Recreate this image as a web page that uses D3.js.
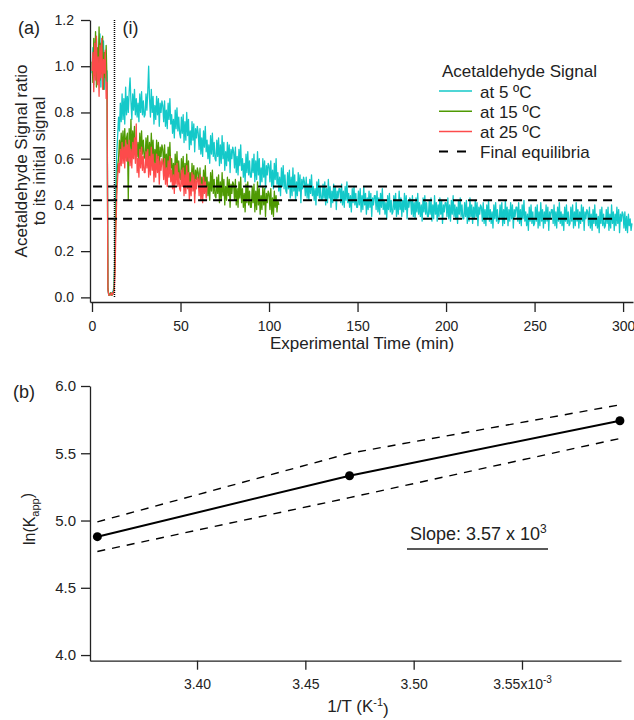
<!DOCTYPE html>
<html>
<head>
<meta charset="utf-8">
<script src="https://cdn.jsdelivr.net/npm/d3@7"></script>
<style>
  body { margin: 0; background: #fff; }
  svg { font-family: "Liberation Sans", Arial, sans-serif; }
</style>
</head>
<body>
<div id="chart"></div>
<script>
// ---- panel (a): acetaldehyde traces, one value every half minute from t = 0 ----
const sampleStep = 0.5;

const signal5C = [
  0.97,1.08,0.92,1.10,0.95,1.12,0.93,1.05,0.98,1.14,0.91,1.07,0.96,1.11,0.90,1.06,0.94,0.98,0.03,0.01,
  0.01,0.02,0.01,0.02,0.03,0.05,0.25,0.50,0.62,0.70,0.78,0.72,0.84,0.76,0.88,0.77,0.86,0.75,0.91,0.79,
  0.87,0.80,0.89,0.95,0.85,0.77,0.88,0.81,0.90,0.79,0.86,0.78,0.84,0.76,0.88,0.80,0.89,0.79,0.85,0.78,
  0.79,0.88,0.81,0.89,1.00,0.86,0.78,0.90,0.80,0.87,0.75,0.83,0.77,0.87,0.79,0.86,0.74,0.84,0.80,0.85,
  0.83,0.76,0.85,0.74,0.81,0.73,0.84,0.77,0.86,0.75,0.79,0.71,0.77,0.69,0.81,0.73,0.82,0.72,0.78,0.71,
  0.69,0.78,0.71,0.79,0.67,0.76,0.68,0.80,0.70,0.77,0.64,0.72,0.66,0.76,0.68,0.75,0.63,0.73,0.69,0.74,
  0.71,0.64,0.73,0.62,0.69,0.61,0.72,0.65,0.74,0.63,0.68,0.60,0.66,0.58,0.70,0.62,0.71,0.61,0.67,0.60,
  0.59,0.68,0.61,0.69,0.57,0.66,0.58,0.70,0.60,0.67,0.55,0.63,0.57,0.67,0.59,0.66,0.54,0.64,0.60,0.65,
  0.63,0.56,0.65,0.54,0.61,0.53,0.64,0.57,0.66,0.55,0.60,0.52,0.58,0.50,0.62,0.54,0.63,0.53,0.59,0.52,
  0.52,0.60,0.54,0.62,0.50,0.59,0.51,0.63,0.53,0.60,0.48,0.56,0.50,0.60,0.52,0.59,0.47,0.57,0.53,0.58,
  0.57,0.50,0.59,0.48,0.55,0.47,0.58,0.51,0.60,0.49,0.54,0.46,0.52,0.44,0.56,0.48,0.57,0.47,0.53,0.46,
  0.45,0.54,0.47,0.55,0.43,0.52,0.44,0.56,0.46,0.53,0.42,0.50,0.44,0.54,0.46,0.53,0.41,0.51,0.47,0.52,
  0.50,0.44,0.52,0.43,0.49,0.42,0.51,0.45,0.53,0.44,0.48,0.42,0.47,0.40,0.50,0.44,0.51,0.43,0.48,0.42,
  0.42,0.49,0.43,0.50,0.40,0.47,0.41,0.51,0.43,0.48,0.39,0.46,0.41,0.49,0.42,0.48,0.38,0.46,0.43,0.47,
  0.47,0.41,0.49,0.40,0.46,0.39,0.48,0.42,0.50,0.41,0.45,0.39,0.44,0.37,0.47,0.41,0.48,0.40,0.45,0.39,
  0.39,0.46,0.40,0.47,0.37,0.44,0.38,0.48,0.40,0.45,0.36,0.43,0.38,0.46,0.39,0.45,0.35,0.43,0.40,0.44,
  0.44,0.38,0.46,0.37,0.43,0.36,0.45,0.39,0.47,0.38,0.42,0.36,0.41,0.34,0.44,0.38,0.45,0.37,0.42,0.36,
  0.37,0.44,0.38,0.45,0.35,0.42,0.36,0.46,0.38,0.43,0.35,0.42,0.37,0.45,0.38,0.44,0.34,0.42,0.39,0.43,
  0.42,0.36,0.44,0.35,0.41,0.34,0.43,0.37,0.45,0.36,0.41,0.35,0.40,0.33,0.43,0.37,0.44,0.36,0.41,0.35,
  0.35,0.42,0.36,0.43,0.33,0.40,0.34,0.44,0.36,0.41,0.33,0.40,0.35,0.43,0.36,0.42,0.32,0.40,0.37,0.41,
  0.41,0.35,0.43,0.34,0.40,0.33,0.42,0.36,0.44,0.35,0.40,0.34,0.39,0.32,0.42,0.36,0.43,0.35,0.40,0.34,
  0.34,0.41,0.35,0.42,0.32,0.39,0.33,0.43,0.35,0.40,0.32,0.39,0.34,0.42,0.35,0.41,0.31,0.39,0.36,0.40,
  0.39,0.33,0.41,0.32,0.38,0.31,0.40,0.34,0.42,0.33,0.38,0.32,0.37,0.30,0.40,0.34,0.41,0.33,0.38,0.32,
  0.33,0.40,0.34,0.41,0.31,0.38,0.32,0.42,0.34,0.39,0.31,0.38,0.33,0.41,0.34,0.40,0.30,0.38,0.35,0.39,
  0.39,0.33,0.41,0.32,0.38,0.31,0.40,0.34,0.42,0.33,0.37,0.31,0.36,0.29,0.39,0.33,0.40,0.32,0.37,0.31,
  0.32,0.39,0.33,0.40,0.30,0.37,0.31,0.41,0.33,0.38,0.30,0.37,0.32,0.40,0.33,0.39,0.29,0.37,0.34,0.38,
  0.38,0.32,0.40,0.31,0.37,0.30,0.39,0.33,0.41,0.32,0.37,0.31,0.36,0.29,0.39,0.33,0.40,0.32,0.37,0.31,
  0.32,0.39,0.33,0.40,0.30,0.37,0.31,0.41,0.33,0.38,0.30,0.37,0.32,0.40,0.33,0.39,0.29,0.37,0.34,0.38,
  0.37,0.31,0.39,0.30,0.36,0.29,0.38,0.32,0.40,0.31,0.36,0.30,0.35,0.28,0.38,0.32,0.39,0.31,0.36,0.30,
  0.31,0.38,0.32,0.39,0.29,0.36,0.30,0.40,0.32,0.37,0.29,0.36,0.31,0.39,0.32,0.38,0.28,0.36,0.33,0.37,
  0.36,0.30,0.37,0.29,0.35,0.28,0.36,0.31,0.34,0.29,0.32
];

const signal15C = [
  1.02,0.93,1.12,0.96,1.15,0.91,1.08,0.99,1.17,0.94,1.10,0.97,1.13,0.90,1.06,0.95,1.09,0.92,0.04,0.01,
  0.01,0.02,0.01,0.01,0.02,0.04,0.18,0.38,0.50,0.57,0.60,0.68,0.61,0.71,0.63,0.72,0.62,0.73,0.64,0.69,
  0.71,0.42,0.73,0.62,0.77,0.61,0.72,0.65,0.74,0.63,0.69,0.61,0.67,0.59,0.71,0.63,0.72,0.62,0.68,0.61,
  0.60,0.69,0.62,0.70,0.58,0.67,0.59,0.71,0.61,0.68,0.56,0.64,0.58,0.68,0.60,0.67,0.55,0.65,0.61,0.66,
  0.64,0.57,0.66,0.55,0.62,0.54,0.65,0.58,0.67,0.56,0.60,0.52,0.58,0.50,0.62,0.54,0.63,0.53,0.59,0.52,
  0.51,0.60,0.53,0.61,0.49,0.58,0.50,0.62,0.52,0.59,0.46,0.54,0.48,0.58,0.50,0.57,0.45,0.55,0.51,0.56,
  0.54,0.47,0.56,0.45,0.52,0.44,0.55,0.48,0.57,0.46,0.52,0.44,0.50,0.42,0.54,0.46,0.55,0.45,0.51,0.44,
  0.43,0.52,0.45,0.53,0.41,0.50,0.42,0.54,0.44,0.51,0.40,0.48,0.42,0.52,0.44,0.51,0.39,0.49,0.45,0.50,
  0.49,0.42,0.51,0.40,0.47,0.39,0.50,0.43,0.52,0.41,0.47,0.39,0.45,0.37,0.49,0.41,0.50,0.40,0.46,0.39,
  0.39,0.48,0.41,0.49,0.37,0.46,0.38,0.50,0.40,0.47,0.36,0.44,0.38,0.48,0.40,0.47,0.35,0.45,0.41,0.46,
  0.45,0.38,0.47,0.36,0.43,0.35,0.46,0.39,0.44,0.37,0.42,0.40
];

const signal25C = [
  0.98,1.06,0.89,1.10,0.94,1.13,0.92,1.04,0.87,1.09,0.95,1.12,0.90,1.03,0.97,1.07,0.86,0.93,0.03,0.01,
  0.01,0.01,0.02,0.01,0.02,0.03,0.10,0.30,0.44,0.52,0.58,0.54,0.64,0.57,0.67,0.58,0.65,0.56,0.68,0.59,
  0.66,0.59,0.68,0.57,0.64,0.56,0.67,0.60,0.69,0.58,0.75,0.54,0.60,0.52,0.64,0.56,0.65,0.55,0.61,0.54,
  0.54,0.63,0.56,0.64,0.52,0.61,0.53,0.65,0.55,0.62,0.50,0.58,0.52,0.62,0.54,0.61,0.49,0.59,0.55,0.60,
  0.58,0.51,0.60,0.49,0.56,0.48,0.59,0.52,0.61,0.50,0.55,0.47,0.53,0.45,0.57,0.49,0.58,0.48,0.54,0.47,
  0.46,0.55,0.48,0.56,0.44,0.53,0.45,0.57,0.47,0.54,0.42,0.50,0.44,0.54,0.46,0.53,0.41,0.51,0.47,0.52,
  0.51,0.44,0.53,0.42,0.49,0.41,0.52,0.45,0.50,0.43,0.48
];

const seriesNames = ["at 5 \u00baC", "at 15 \u00baC", "at 25 \u00baC"];
const seriesColors = ["#14c9c9", "#4f9a03", "#fd4b4b"];

const equilibria = [0.48, 0.42, 0.34];
const equilibriumSpan = [0.6, 296.5];
const eventTime = 12.7;   // dotted marker "(i)"

const timeTicks = [0, 50, 100, 150, 200, 250, 300];
const ratioTicks = [0.0, 0.2, 0.4, 0.6, 0.8, 1.0, 1.2];

// ---- panel (b): van 't Hoff plot (1/T in 10^-3 K^-1) ----
const invT = [3.354, 3.4704, 3.5952];
const lnK = [4.88, 5.333, 5.742];
const lnKUpper = [4.99, 5.50, 5.86];
const lnKLower = [4.77, 5.17, 5.61];
const invTTicks = [3.40, 3.45, 3.50, 3.55];
const lnKTicks = [4.0, 4.5, 5.0, 5.5, 6.0];

const width = 634;
const height = 720;
const ink = "#222";

const svg = d3.select("#chart")
    .append("svg")
    .attr("width", width)
    .attr("height", height);

function styleAxis(g, fontSize) {
    g.attr("font-family", null).attr("font-size", null);
    g.select(".domain").attr("stroke", ink).attr("stroke-width", 1.3);
    g.selectAll(".tick line").attr("stroke", ink).attr("stroke-width", 1.3);
    g.selectAll(".tick text").attr("fill", ink).attr("font-size", fontSize + "px");
}

// ================= panel (a) =================
const xA = d3.scaleLinear().domain([-1.13, 305.6]).range([90, 633]);
const yA = d3.scaleLinear().domain([-0.02, 1.2]).range([302, 20]);

svg.append("g")
    .attr("transform", "translate(0,302)")
    .call(d3.axisBottom(xA).tickValues(timeTicks).tickSize(10).tickSizeOuter(0).tickPadding(9).tickFormat(d3.format("d")))
    .call(g => styleAxis(g, 14));

svg.append("g")
    .attr("transform", "translate(90,0)")
    .call(d3.axisLeft(yA).tickValues(ratioTicks).tickSize(9).tickSizeOuter(0).tickPadding(7).tickFormat(d3.format(".1f")))
    .call(g => styleAxis(g, 14));

// traces: cyan first, red on top
const traces = [signal5C, signal15C, signal25C];
const traceLine = d3.line()
    .x((d, i) => xA(i * sampleStep))
    .y(d => yA(d));

traces.forEach((values, k) => {
    svg.append("path")
        .datum(values)
        .attr("fill", "none")
        .attr("stroke", seriesColors[k])
        .attr("stroke-width", 1.3)
        .attr("stroke-linejoin", "round")
        .attr("d", traceLine);
});

// final equilibria
svg.selectAll(".equil")
    .data(equilibria)
    .enter()
    .append("line")
    .attr("class", "equil")
    .attr("x1", xA(equilibriumSpan[0]))
    .attr("x2", xA(equilibriumSpan[1]))
    .attr("y1", d => yA(d))
    .attr("y2", d => yA(d))
    .attr("stroke", "#000")
    .attr("stroke-width", 2)
    .attr("stroke-dasharray", "9,6");

// dotted marker
svg.append("line")
    .attr("x1", xA(eventTime)).attr("x2", xA(eventTime))
    .attr("y1", yA(1.2)).attr("y2", yA(0))
    .attr("stroke", "#000")
    .attr("stroke-width", 1.5)
    .attr("stroke-dasharray", "1,1");

svg.append("text")
    .attr("x", xA(eventTime) + 8).attr("y", 34)
    .attr("font-size", "18px").attr("fill", ink)
    .text("(i)");

svg.append("text")
    .attr("x", 18).attr("y", 34)
    .attr("font-size", "18px").attr("fill", ink)
    .text("(a)");

// axis titles
svg.append("text")
    .attr("x", 362).attr("y", 349)
    .attr("text-anchor", "middle")
    .attr("font-size", "17px").attr("fill", ink)
    .text("Experimental Time (min)");

const yTitleA = ["Acetaldehyde Signal ratio", "to its initial signal"];
yTitleA.forEach((t, i) => {
    svg.append("text")
        .attr("transform", `translate(${27 + i * 18},161) rotate(-90)`)
        .attr("text-anchor", "middle")
        .attr("font-size", "17px").attr("fill", ink)
        .text(t);
});

// legend
const legend = svg.append("g").attr("transform", "translate(439,0)");
legend.append("text")
    .attr("x", 3).attr("y", 77)
    .attr("font-size", "17px").attr("fill", ink)
    .text("Acetaldehyde Signal");

const legendRows = seriesNames.concat(["Final equilibria"]);
legendRows.forEach((name, i) => {
    const yb = 97.5 + i * 20.2;
    const isDash = i === 3;
    legend.append("line")
        .attr("x1", 0).attr("x2", isDash ? 27 : 33)
        .attr("y1", yb - 6.5).attr("y2", yb - 6.5)
        .attr("stroke", isDash ? "#000" : seriesColors[i])
        .attr("stroke-width", isDash ? 2 : 1.5)
        .attr("stroke-dasharray", isDash ? "9,9" : null);
    legend.append("text")
        .attr("x", 41).attr("y", yb)
        .attr("font-size", "17px").attr("fill", ink)
        .text(name);
});

// ================= panel (b) =================
const xB = d3.scaleLinear().domain([3.3506, 3.5957]).range([90, 621]);
const yB = d3.scaleLinear().domain([3.958, 6.0]).range([660.7, 386]);

svg.append("g")
    .attr("transform", "translate(0,660.7)")
    .call(d3.axisBottom(xB).tickValues(invTTicks).tickSize(9).tickSizeOuter(0).tickPadding(9).tickFormat(d3.format(".2f")))
    .call(g => styleAxis(g, 14))
    .call(g => g.selectAll(".tick text").each(function (d) {
        if (d === 3.55) {
            const t = d3.select(this).text("3.55x10");
            t.append("tspan").attr("dy", "-0.55em").attr("font-size", "10px").text("-3");
        }
    }));

svg.append("g")
    .attr("transform", "translate(90,0)")
    .call(d3.axisLeft(yB).tickValues(lnKTicks).tickSize(9).tickSizeOuter(0).tickPadding(5).tickFormat(d3.format(".1f")))
    .call(g => styleAxis(g, 15));

const fitLine = d3.line()
    .x((d, i) => xB(invT[i]))
    .y(d => yB(d));

[lnKUpper, lnKLower].forEach(band => {
    svg.append("path")
        .datum(band)
        .attr("fill", "none")
        .attr("stroke", "#000")
        .attr("stroke-width", 1.4)
        .attr("stroke-dasharray", "8,7")
        .attr("d", fitLine);
});

svg.append("path")
    .datum(lnK)
    .attr("fill", "none")
    .attr("stroke", "#000")
    .attr("stroke-width", 2)
    .attr("d", fitLine);

svg.selectAll(".pt")
    .data(lnK)
    .enter()
    .append("circle")
    .attr("class", "pt")
    .attr("cx", (d, i) => xB(invT[i]))
    .attr("cy", d => yB(d))
    .attr("r", 4.5)
    .attr("fill", "#000");

svg.append("text")
    .attr("x", 13).attr("y", 398)
    .attr("font-size", "18px").attr("fill", ink)
    .text("(b)");

// slope annotation
const slope = svg.append("text")
    .attr("x", 410).attr("y", 540)
    .attr("font-size", "18px").attr("fill", ink)
    .text("Slope: 3.57 x 10");
slope.append("tspan").attr("dy", "-0.6em").attr("font-size", "12px").text("3");

svg.append("line")
    .attr("x1", 407).attr("x2", 548)
    .attr("y1", 549).attr("y2", 549)
    .attr("stroke", ink).attr("stroke-width", 1.3);

// axis titles (b)
const xTitleB = svg.append("text")
    .attr("x", 358).attr("y", 712)
    .attr("text-anchor", "middle")
    .attr("font-size", "17px").attr("fill", ink)
    .text("1/T (K");
xTitleB.append("tspan").attr("dy", "-0.55em").attr("font-size", "11px").text("-1");
xTitleB.append("tspan").attr("dy", "0.55em").text(")");

const yTitleB = svg.append("text")
    .attr("transform", "translate(35,519) rotate(-90)")
    .attr("text-anchor", "middle")
    .attr("font-size", "16px").attr("fill", ink)
    .text("ln(K");
yTitleB.append("tspan").attr("dy", "0.35em").attr("font-size", "11px").text("app");
yTitleB.append("tspan").attr("dy", "-0.35em").text(")");
</script>
</body>
</html>
